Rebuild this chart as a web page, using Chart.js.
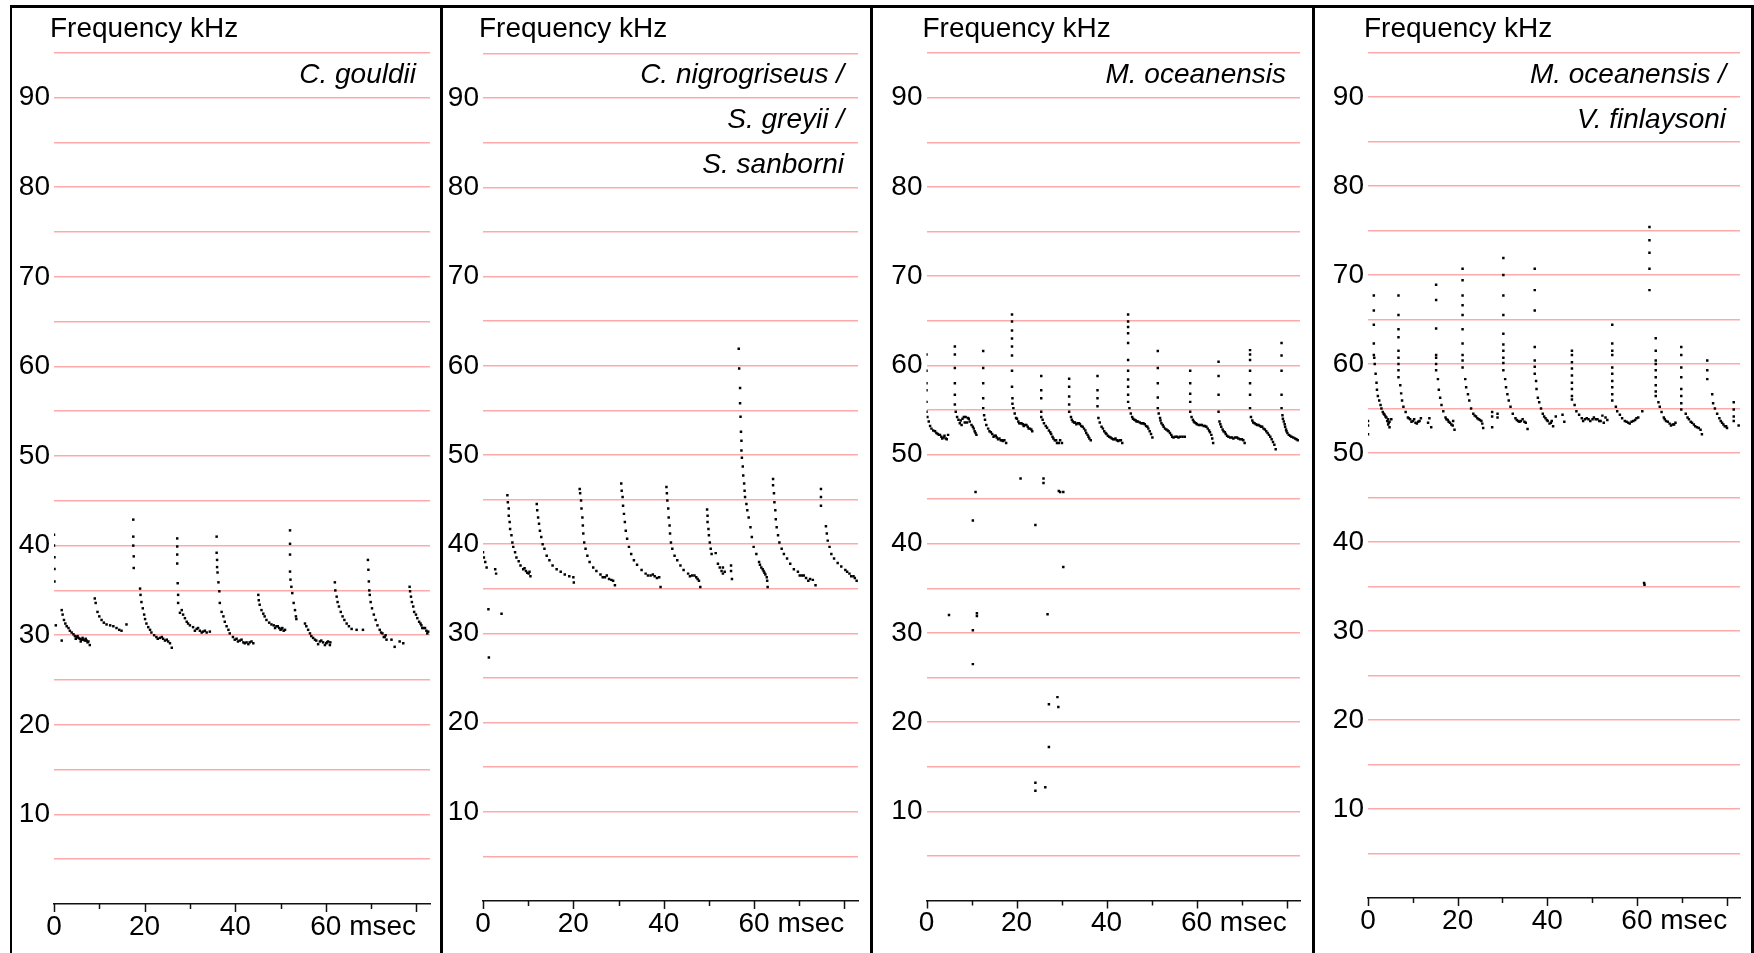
<!DOCTYPE html>
<html>
<head>
<meta charset="utf-8">
<script src="https://cdn.jsdelivr.net/npm/chart.js@4.4.0/dist/chart.umd.min.js"></script>
<style>
  html, body { margin: 0; padding: 0; background: #fff; }
  #page { position: relative; width: 1754px; height: 953px; overflow: hidden; background: #fff; }
  #page canvas { position: absolute; top: 0; }
  .rule { position: absolute; background: #000; }
</style>
</head>
<body>
<div id="page">
  <canvas id="c1" width="428" height="953" style="left:12px"></canvas>
  <canvas id="c2" width="427" height="953" style="left:443px"></canvas>
  <canvas id="c3" width="439" height="953" style="left:873px"></canvas>
  <canvas id="c4" width="436" height="953" style="left:1315px"></canvas>
  <div class="rule" style="left:9.5px;top:5px;width:1745px;height:3px"></div>
  <div class="rule" style="left:9.5px;top:5px;width:2.5px;height:948px"></div>
  <div class="rule" style="left:440px;top:5px;width:2.5px;height:948px"></div>
  <div class="rule" style="left:870px;top:5px;width:2.5px;height:948px"></div>
  <div class="rule" style="left:1312px;top:5px;width:2.5px;height:948px"></div>
  <div class="rule" style="left:1751px;top:5px;width:3px;height:948px"></div>
</div>
<script>
// Echolocation call sequences: [time ms, frequency kHz] for each detected sample.
const gouldiiCalls = [
  [0.0,41.2],[0.0,40.0],[0.1,38.7],[0.1,37.4],[0.1,36.0],[0.4,31.1],[1.7,29.4],
  [1.7,32.8],[1.9,32.3],[2.2,31.7],[2.5,31.3],[2.8,31.0],[3.2,30.8],[3.5,30.5],[3.9,30.3],[4.3,30.1],[4.6,29.9],[5.0,29.8],[5.4,29.7],[5.7,29.6],[6.1,29.5],[6.5,29.5],[6.8,29.4],[7.2,29.4],[7.6,29.3],[7.9,28.9],
  [4.8,29.6],[5.2,29.9],[5.9,29.3],[6.3,29.7],[7.0,29.6],[7.4,29.2],
  [9.0,34.1],[9.2,33.6],[9.6,32.6],[10.0,32.1],[10.5,31.7],[11.0,31.4],[11.6,31.2],[12.4,31.1],[13.1,31.0],[13.8,30.8],[14.4,30.6],[14.9,30.5],[16.0,31.2],
  [17.5,42.9],[17.5,41.0],[17.5,40.0],[17.6,38.8],[17.6,37.5],[19.0,35.2],[19.1,34.5],[19.3,33.7],[19.6,33.0],[19.9,32.3],[20.1,31.8],[20.4,31.3],[20.8,30.9],[21.2,30.6],[21.5,30.3],[22.1,30.0],[22.6,29.8],[23.4,29.7],[24.1,29.6],[24.9,29.5],[25.2,29.3],[25.6,29.1],[26.0,28.6],
  [22.9,29.6],[23.8,29.8],[24.5,29.4],
  [27.2,40.8],[27.2,39.9],[27.2,39.0],[27.2,38.0],[27.3,35.8],[27.4,34.5],[27.4,33.6],[27.8,32.5],[28.2,32.8],[28.5,32.3],[28.9,31.9],[29.3,31.5],[29.6,31.3],[30.0,31.1],[30.7,30.9],[31.5,30.7],[32.2,30.5],[32.9,30.4],[33.7,30.3],[34.4,30.4],
  [31.1,30.5],[31.8,30.8],[32.6,30.3],[33.3,30.5],
  [35.9,41.0],[35.9,39.2],[36.0,38.4],[36.0,37.6],[36.1,37.0],[36.3,35.9],[36.5,34.9],[36.6,33.6],[37.0,32.6],[37.4,32.1],[37.7,31.5],[38.1,31.0],[38.5,30.6],[38.8,30.2],[39.5,29.8],[40.3,29.6],[41.0,29.4],[41.8,29.2],[42.5,29.2],[43.2,29.2],[44.0,29.1],
  [39.9,29.5],[40.6,29.3],[41.4,29.5],[42.1,29.1],[42.9,29.0],[43.6,29.3],
  [45.1,34.5],[45.2,33.9],[45.4,33.4],[45.8,32.8],[46.2,32.4],[46.5,32.1],[46.9,31.7],[47.5,31.4],[48.0,31.2],[48.5,31.1],[49.1,31.0],[49.7,30.8],[50.2,30.7],[50.7,30.5],[51.0,30.6],
  [48.8,30.8],[49.4,31.0],[50.0,30.6],[50.4,30.8],
  [52.1,41.7],[52.1,40.2],[52.1,39.0],[52.1,37.1],[52.2,36.2],[52.4,35.4],[52.6,34.7],[52.9,33.6],[53.2,32.8],[53.4,32.1],[53.5,31.8],[55.4,31.3],[55.7,31.0],[56.1,30.6],[56.5,30.2],[56.8,29.9],[57.2,29.7],[57.6,29.5],[57.9,29.4],[58.7,29.3],[59.4,29.2],[60.1,29.1],[60.9,28.9],[60.5,29.3],
  [58.3,29.0],[59.0,29.4],[59.8,28.9],[60.3,29.2],[61.0,29.2],
  [62.0,35.9],[62.1,35.0],[62.4,34.3],[62.6,33.7],[62.9,33.2],[63.3,32.6],[63.7,32.1],[64.1,31.7],[64.6,31.3],[65.1,31.0],[65.7,30.7],[66.8,30.6],[68.2,30.6],
  [69.3,38.4],[69.4,37.3],[69.5,36.0],[69.6,35.0],[69.7,34.5],[69.9,33.7],[70.2,33.0],[70.6,32.3],[71.0,31.7],[71.4,31.1],[71.9,30.6],[72.5,30.2],[73.0,29.8],[73.4,29.5],[74.5,29.5],[75.2,28.7],[76.3,29.3],[77.1,29.1],
  [72.2,30.3],[72.8,29.8],[73.2,30.0],
  [78.5,35.4],[78.6,34.9],[78.8,34.3],[79.0,33.7],[79.3,33.2],[79.5,32.6],[79.9,32.3],[80.2,31.9],[80.6,31.5],[81.1,31.1],[81.6,30.8],[82.2,30.5],[82.6,30.4],
  [80.9,31.3],[81.3,30.8],[81.9,30.8],[82.4,30.2]
];

const nigrogriseusCalls = [
  [0.0,39.1],[0.2,38.5],[0.5,38.0],[0.8,37.4],[2.7,37.2],[2.9,36.7],[1.2,32.7],[4.1,32.2],[1.3,27.3],
  [5.4,45.5],[5.5,44.7],[5.7,44.0],[5.7,43.2],[5.9,42.5],[6.0,41.7],[6.3,41.0],[6.5,40.2],[6.7,39.7],[7.1,39.1],[7.4,38.5],[7.9,38.1],[8.3,37.6],[8.9,37.2],[9.5,37.0],[10.1,36.7],[10.5,36.4],
  [9.2,37.3],[9.8,36.8],[10.3,36.9],
  [11.9,44.5],[12.0,43.8],[12.2,43.0],[12.4,42.3],[12.6,41.5],[12.9,40.8],[13.2,40.0],[13.6,39.5],[14.1,38.7],[14.7,38.2],[15.4,37.6],[16.3,37.2],[17.2,36.9],[18.1,36.6],[19.1,36.4],[20.0,36.3],[20.1,35.7],
  [21.4,46.2],[21.5,45.7],[21.7,44.9],[21.8,44.0],[22.0,43.0],[22.1,42.1],[22.2,41.2],[22.4,40.2],[22.7,39.5],[23.1,38.7],[23.6,38.0],[24.4,37.4],[25.1,37.0],[26.0,36.6],[27.0,36.3],[27.9,36.1],[28.8,35.9],[29.2,35.4],
  [26.5,36.3],[27.4,36.5],[28.4,36.0],
  [30.6,46.8],[30.7,46.0],[30.9,45.3],[31.0,44.3],[31.2,43.4],[31.4,42.5],[31.6,41.5],[31.9,40.6],[32.3,39.7],[32.8,38.9],[33.4,38.2],[34.1,37.7],[35.1,37.1],[36.0,36.7],[37.1,36.5],[38.0,36.4],[39.0,36.3],[39.3,35.2],
  [36.5,36.5],[37.6,36.6],[38.5,36.2],
  [40.6,46.4],[40.7,45.7],[40.8,44.9],[41.0,44.0],[41.1,43.0],[41.3,42.1],[41.4,41.2],[41.6,40.2],[41.9,39.5],[42.4,38.7],[43.0,38.2],[43.7,37.6],[44.4,37.1],[45.4,36.7],[46.3,36.5],[47.2,36.3],[47.8,35.9],[48.1,35.2],
  [45.8,36.4],[46.8,36.5],[47.5,36.1],
  [49.6,43.9],[49.7,43.2],[49.7,42.5],[49.9,41.7],[50.0,41.0],[50.2,40.2],[50.4,39.5],[50.6,38.9],[51.5,39.0],[52.0,37.8],[52.4,37.4],[52.8,37.0],[53.1,36.7],[53.5,36.9],[53.1,37.4],[54.9,37.6],[54.9,37.0],[55.1,36.1],
  [56.6,61.9],[56.7,59.7],[56.9,57.5],[56.9,55.8],[57.0,54.3],[57.1,52.6],[57.2,51.6],[57.2,50.5],[57.3,49.7],[57.5,48.7],[57.6,47.7],[57.8,46.8],[57.9,46.0],[58.0,45.3],[58.3,44.5],[58.5,43.8],[58.8,43.0],[59.2,41.9],[59.5,40.8],[59.9,39.7],[60.5,38.9],[61.1,38.0],[61.6,37.4],[62.1,37.0],[62.5,36.6],[62.8,36.3],[62.9,35.9],[63.0,35.2],
  [61.3,37.7],[61.9,37.2],[62.3,36.8],
  [64.2,47.3],[64.2,46.6],[64.4,45.7],[64.5,44.7],[64.7,43.8],[64.8,42.8],[65.0,41.9],[65.3,41.0],[65.6,40.2],[66.1,39.5],[66.6,38.9],[67.3,38.4],[68.0,37.8],[68.8,37.2],[69.7,36.9],[70.6,36.5],[71.5,36.2],[72.4,36.1],[73.0,36.0],[73.6,35.4],
  [70.1,36.5],[71.0,36.5],[72.0,35.9],
  [74.8,46.2],[74.8,45.3],[74.8,44.3],[75.9,42.0],[76.1,41.2],[76.3,40.4],[76.7,39.7],[77.1,38.9],[77.7,38.4],[78.5,37.9],[79.3,37.5],[80.2,37.1],[81.1,36.7],[82.0,36.4],[82.7,35.9],
  [80.6,36.9],[81.5,36.4],[82.3,36.2]
];

const oceanensisCalls = [
  [0.0,61.2],[0.0,59.4],[0.0,58.0],[0.0,57.2],[0.0,55.9],[0.0,54.8],[0.2,54.2],[0.5,53.7],[0.8,53.2],[1.1,52.9],[1.5,52.7],[1.9,52.6],[2.2,52.4],[2.8,52.2],[3.3,52.0],[3.8,51.9],[4.3,51.8],[4.8,52.2],
  [2.5,52.3],[3.0,52.2],[3.5,51.8],[4.0,52.1],[4.5,51.7],
  [6.3,62.1],[6.3,61.2],[6.3,59.7],[6.3,58.0],[6.3,56.7],[6.3,55.6],[6.5,54.8],[6.8,54.2],[7.1,53.9],[7.4,53.5],[7.8,53.3],[8.3,54.2],[8.7,54.2],[9.2,54.1],[9.6,53.7],[10.3,53.1],[10.7,52.6],[11.1,52.2],
  [7.6,53.8],[8.0,54.0],[8.5,53.6],[9.0,53.6],[9.4,54.0],[10.0,53.3],[10.5,52.9],[10.9,52.4],
  [12.6,61.6],[12.6,59.7],[12.6,58.0],[12.6,56.3],[12.6,55.2],[12.8,54.4],[13.0,53.9],[13.3,53.3],[13.7,52.9],[14.0,52.6],[14.6,52.3],[15.1,52.1],[15.6,51.9],[16.2,51.8],[16.8,51.6],[17.3,51.6],[17.7,51.3],
  [14.3,52.5],[14.9,52.0],[15.4,52.1],[15.9,51.7],[16.5,51.6],[17.0,51.5],
  [19.0,65.7],[19.0,64.9],[19.0,63.9],[19.0,63.0],[19.0,62.1],[19.0,61.1],[19.0,59.4],[19.0,57.6],[19.1,56.3],[19.1,55.7],[19.3,55.2],[19.6,54.6],[19.9,54.1],[20.4,53.7],[20.9,53.5],[21.4,53.4],[21.9,53.3],[22.5,53.1],[23.0,52.9],[23.5,52.6],
  [20.1,54.0],[20.6,53.5],[21.1,53.5],[21.6,53.2],[22.2,53.3],[22.7,52.9],[23.3,52.8],
  [25.5,58.8],[25.5,57.2],[25.5,56.3],[25.5,54.8],[25.5,54.2],[25.8,53.9],[26.5,53.2],[27.2,52.7],[27.7,52.3],[28.2,51.8],[28.8,51.6],[29.4,51.3],[30.1,51.3],
  [26.1,53.5],[26.8,53.0],[27.5,52.5],[28.0,52.0],[28.5,51.6],[29.0,51.3],[29.7,51.6],
  [31.7,58.5],[31.7,57.6],[31.7,56.5],[31.7,55.6],[31.7,54.8],[32.1,54.2],[32.5,53.7],[33.0,53.6],[33.6,53.5],[34.1,53.4],[34.7,53.1],[35.3,52.7],[35.8,52.2],[36.2,51.8],[36.5,51.6],
  [32.3,53.9],[32.8,53.6],[33.3,53.4],[33.9,53.5],[34.4,53.2],[35.0,52.9],[35.5,52.4],[36.0,52.0],
  [38.0,58.8],[38.0,57.2],[38.0,56.3],[38.0,55.4],[38.2,54.1],[38.5,53.6],[38.9,53.1],[39.5,52.6],[40.0,52.3],[40.6,52.0],[41.2,51.8],[41.8,51.7],[42.3,51.6],[42.9,51.6],[43.5,51.3],
  [39.2,52.9],[39.8,52.4],[40.3,52.1],[40.9,51.9],[41.5,51.7],[42.0,51.8],[42.6,51.5],[43.2,51.6],
  [44.8,65.7],[44.8,64.9],[44.8,64.3],[44.8,63.6],[44.8,62.5],[44.8,60.6],[44.8,59.4],[44.8,58.4],[44.8,57.6],[44.8,56.7],[44.8,55.9],[45.1,55.2],[45.4,54.6],[45.7,54.2],[46.2,53.9],[46.7,53.7],[47.4,53.6],[48.0,53.5],[48.5,53.4],[49.1,53.1],[49.6,52.6],[50.2,51.9],
  [45.9,54.0],[46.5,53.8],[47.0,53.7],[47.7,53.5],[48.2,53.5],[48.8,53.2],[49.3,52.9],[49.9,52.3],
  [51.4,61.6],[51.4,59.7],[51.4,58.0],[51.4,56.4],[51.4,55.2],[51.6,54.6],[51.9,54.1],[52.2,53.5],[52.7,53.1],[53.3,52.8],[53.8,52.6],[54.4,52.2],[54.9,51.9],[55.7,52.0],[56.4,52.0],[57.4,52.0],
  [52.0,53.8],[52.5,53.3],[53.0,52.9],[53.6,52.7],[54.1,52.4],[54.6,52.0],[55.3,52.0],[56.0,51.9],[56.9,52.0],
  [58.6,59.4],[58.6,58.0],[58.6,56.8],[58.6,55.9],[58.6,54.8],[58.9,54.2],[59.2,53.9],[59.6,53.6],[60.1,53.4],[60.9,53.3],[61.6,53.2],[62.2,53.1],[62.8,52.7],[63.3,52.2],[63.7,51.3],
  [59.4,53.7],[59.9,53.5],[60.5,53.3],[61.2,53.3],[61.9,53.2],[62.5,52.9],[63.0,52.5],[63.5,51.8],
  [64.9,60.4],[64.9,58.8],[64.9,56.7],[64.9,54.8],[65.1,53.7],[65.5,53.1],[66.0,52.6],[66.5,52.3],[67.1,52.0],[67.9,51.9],[68.6,51.9],[69.3,51.8],[70.1,51.7],[70.7,51.3],
  [65.3,53.4],[65.8,52.8],[66.3,52.5],[66.8,52.1],[67.5,51.9],[68.2,51.8],[69.0,51.9],[69.7,51.7],[70.4,51.6],
  [71.9,61.7],[71.9,61.2],[71.9,60.6],[71.9,59.4],[71.9,58.0],[71.9,56.7],[71.9,55.2],[72.1,54.2],[72.4,53.8],[72.9,53.5],[73.5,53.3],[74.1,53.2],[74.6,53.1],[75.2,52.8],[75.8,52.4],[76.4,52.0],[77.0,51.4],[77.6,50.6],
  [72.6,53.6],[73.2,53.4],[73.8,53.3],[74.4,53.1],[74.9,52.9],[75.5,52.6],[76.1,52.2],[76.7,51.7],[77.3,51.1],
  [78.9,62.5],[78.9,61.1],[78.9,59.4],[78.9,56.7],[78.9,55.2],[79.1,54.4],[79.4,53.7],[79.7,53.1],[80.0,52.6],[80.5,52.2],[81.1,52.0],[81.9,51.8],[82.5,51.6],
  [79.2,54.0],[79.6,53.4],[79.9,52.8],[80.2,52.4],[80.8,52.1],[81.5,51.9],[82.2,51.7],
  [5.0,32.0],[10.3,30.3],[11.2,32.2],[11.2,31.9],[10.3,26.5],[10.3,42.6],[10.9,45.8],[20.9,47.3],[26.0,47.3],[26.0,46.8],[24.2,42.1],[29.4,45.9],[29.7,45.8],[30.4,45.8],[30.4,37.4],[26.9,32.1],[27.2,22.0],[29.1,22.8],[29.3,21.7],[27.2,17.2],[24.2,13.2],[24.2,12.3],[26.4,12.7]
];

const finlaysoniCalls = [
  [0.0,53.6],[0.0,53.1],[0.0,52.1],
  [1.3,67.7],[1.3,66.0],[1.3,64.4],[1.3,62.3],[1.3,61.0],[1.4,60.7],[1.5,60.0],[1.7,58.9],[1.9,57.9],[2.0,57.1],[2.2,56.4],[2.5,55.9],[2.8,55.4],[3.0,55.0],[3.3,54.6],[3.7,54.3],[4.1,54.0],[4.5,53.8],[4.8,53.5],[5.2,53.8],[4.5,53.2],[4.8,52.9],
  [3.5,54.4],[3.9,54.1],[4.3,53.6],[4.6,53.4],
  [6.8,67.7],[6.8,65.5],[6.8,63.9],[6.8,63.0],[6.8,61.5],[6.8,60.7],[6.8,60.0],[6.8,59.3],[6.8,58.5],[7.2,57.6],[7.4,56.7],[7.6,55.9],[7.9,55.2],[8.4,54.6],[8.9,54.0],[9.4,53.8],[10.0,53.6],[10.6,53.4],[11.2,53.5],[11.8,53.9],
  [9.1,53.9],[9.7,53.5],[10.3,53.8],[10.9,53.3],[11.5,53.6],
  [13.4,53.4],[13.7,53.9],[14.1,52.9],
  [15.2,68.9],[15.2,67.2],[15.2,64.0],[15.2,61.0],[15.2,60.7],[15.2,60.0],[15.2,59.3],[15.6,58.3],[15.8,57.1],[16.1,56.2],[16.4,55.4],[16.8,54.7],[17.3,54.0],[17.8,53.7],[18.3,53.4],[18.9,53.1],[19.3,52.6],
  [17.5,53.8],[18.0,53.5],[18.6,53.2],[19.0,53.6],
  [21.1,70.7],[21.1,69.4],[21.1,67.7],[21.1,66.6],[21.1,65.5],[21.1,63.9],[21.1,62.3],[21.1,61.0],[21.1,60.4],[21.1,59.6],[21.7,58.3],[21.9,57.4],[22.3,56.6],[22.6,55.9],[23.0,55.0],[23.5,54.4],[24.1,54.1],[24.7,53.8],[25.3,53.6],[25.7,52.8],
  [23.8,54.2],[24.4,53.9],[25.0,53.7],[25.5,53.3],
  [27.7,54.6],[27.7,54.1],[27.7,52.9],[28.9,54.4],[28.9,54.0],
  [30.2,71.9],[30.2,70.0],[30.2,67.7],[30.2,65.5],[30.2,63.4],[30.2,62.2],[30.2,61.5],[30.2,60.7],[30.2,60.1],[30.2,59.3],[30.6,58.3],[30.8,57.4],[31.1,56.6],[31.4,55.9],[31.8,55.2],[32.3,54.4],[32.9,53.9],[33.5,53.6],[34.1,53.6],[34.9,53.5],[35.6,52.7],
  [33.2,53.7],[33.8,53.5],[34.5,53.8],[35.2,53.4],
  [37.2,70.7],[37.2,68.3],[37.2,66.0],[37.2,61.9],[37.2,60.4],[37.2,59.7],[37.2,58.9],[37.5,58.1],[37.6,57.2],[37.9,56.2],[38.2,55.7],[38.6,55.0],[39.0,54.4],[39.6,53.9],[40.1,53.6],[40.8,53.4],[41.3,53.0],[41.9,54.1],[43.4,54.3],[43.8,53.5],
  [39.3,54.1],[39.9,53.7],[40.5,53.3],[41.0,53.6],
  [45.5,61.5],[45.5,61.0],[45.5,60.2],[45.5,59.5],[45.5,58.7],[45.5,57.9],[45.5,57.2],[45.5,56.4],[45.5,56.0],[46.1,55.4],[46.5,54.7],[47.1,54.3],[47.7,53.9],[48.4,53.8],[49.2,53.8],[50.1,53.8],[50.8,53.8],[51.6,53.6],
  [48.0,53.6],[48.8,53.9],[49.6,53.6],[50.4,54.0],[51.2,53.8],
  [51.9,53.6],[52.3,54.2],[52.6,53.4],[53.0,54.0],[53.4,53.7],
  [54.5,64.4],[54.5,62.3],[54.5,61.5],[54.5,61.0],[54.5,59.6],[54.5,58.9],[54.5,58.1],[54.5,57.4],[54.5,56.6],[54.5,55.9],[55.3,55.2],[55.6,54.7],[56.2,54.3],[56.7,53.9],[57.3,53.6],[58.1,53.4],[58.8,53.5],[59.6,53.7],[60.3,54.0],[61.2,54.7],
  [57.7,53.5],[58.4,53.3],[59.2,53.6],[59.9,53.9],
  [62.8,75.4],[62.8,73.9],[62.8,72.5],[62.8,70.7],[62.8,68.3],[64.2,62.9],[64.2,61.5],[64.2,60.4],[64.2,60.0],[64.2,59.3],[64.2,58.5],[64.2,57.6],[64.2,56.9],[64.2,56.4],[64.8,55.7],[65.1,55.2],[65.5,54.6],[66.0,54.0],[66.5,53.6],[67.3,53.3],[68.0,53.2],[68.6,53.4],
  [66.2,53.8],[66.9,53.5],[67.6,53.1],[68.3,53.2],
  [69.9,61.9],[69.9,61.0],[69.9,59.6],[69.9,58.5],[69.9,57.2],[69.9,56.4],[69.9,55.6],[69.9,54.9],[70.9,54.4],[71.3,54.0],[72.0,53.5],[72.7,53.2],[73.4,52.9],[74.2,52.6],[74.5,52.1],
  [71.6,53.8],[72.3,53.4],[73.0,53.0],[73.8,52.8],
  [75.7,60.4],[75.7,59.3],[75.7,58.3],[76.8,56.6],[77.0,55.6],[77.4,55.0],[77.9,54.4],[78.4,53.9],[79.0,53.4],[79.6,53.0],[80.1,52.8],
  [78.7,53.6],[79.3,53.2],[79.9,53.0],
  [81.6,55.7],[81.6,54.9],[81.6,54.1],[81.6,53.6],[82.7,53.1],
  [61.6,35.4],[61.7,35.2]
];

// Axis tick labels and panel captions
const freqTickLabels = [10, 20, 30, 40, 50, 60, 70, 80, 90];
const timeTickLabels = [0, 20, 40, 60];
const timeUnit = 'msec';
const freqAxisTitle = 'Frequency kHz';
const panelSpecies = [
  ['C. gouldii'],
  ['C. nigrogriseus /', 'S. greyii /', 'S. sanborni'],
  ['M. oceanensis'],
  ['M. oceanensis /', 'V. finlaysoni']
];
const panelCalls = [gouldiiCalls, nigrogriseusCalls, oceanensisCalls, finlaysoniCalls];

// Layout of each panel on the page (pixels)
const panelLayout = [
  { id: 'c1', canvasLeft: 12,   canvasRight: 440,  plotLeft: 54,    plotRight: 430,  zeroY: 904,   pxPerKHz: 8.96 },
  { id: 'c2', canvasLeft: 443,  canvasRight: 870,  plotLeft: 483,   plotRight: 858,  zeroY: 901,   pxPerKHz: 8.92 },
  { id: 'c3', canvasLeft: 873,  canvasRight: 1312, plotLeft: 926.5, plotRight: 1300, zeroY: 900.5, pxPerKHz: 8.92 },
  { id: 'c4', canvasLeft: 1315, canvasRight: 1751, plotLeft: 1368,  plotRight: 1740, zeroY: 898,   pxPerKHz: 8.9 }
];

const FREQ_MAX = 97;
const TIME_MAX = 83;
const FONT = '"Liberation Sans", Arial, sans-serif';
const FONT_SIZE = 28;
const GRID_PINK = '#ffaaaa';
const LABEL_PAD = 6;

Chart.defaults.font.family = FONT;
Chart.defaults.color = '#000';

// Draws axis tick marks, the unit after the last time label, the frequency caption and species names
const panelDecor = {
  id: 'panelDecor',
  afterDraw(chart, args, opts) {
    const ctx = chart.ctx;
    const xs = chart.scales.x;
    const area = chart.chartArea;
    ctx.save();
    ctx.strokeStyle = '#111';
    ctx.lineWidth = 1.5;
    xs.ticks.forEach(t => {
      const px = Math.round(xs.getPixelForValue(t.value)) + 0.5;
      const len = t.value % 20 === 0 ? 8 : 5;
      ctx.beginPath();
      ctx.moveTo(px, area.bottom);
      ctx.lineTo(px, area.bottom + len);
      ctx.stroke();
    });
    ctx.fillStyle = '#000';
    ctx.font = FONT_SIZE + 'px ' + FONT;
    const lastValue = timeTickLabels[timeTickLabels.length - 1];
    const lx = xs.getPixelForValue(lastValue);
    const ly = xs.top + LABEL_PAD + FONT_SIZE * 1.2 / 2;
    ctx.textBaseline = 'middle';
    ctx.textAlign = 'left';
    ctx.fillText(timeUnit, lx + ctx.measureText(String(lastValue)).width / 2 + ctx.measureText(' ').width, ly);
    ctx.textBaseline = 'alphabetic';
    ctx.fillText(freqAxisTitle, area.left - 4, 36.5);
    ctx.font = 'italic ' + FONT_SIZE + 'px ' + FONT;
    ctx.textAlign = 'right';
    opts.species.forEach((s, i) => {
      ctx.fillText(s, area.right - 14, 83 + i * 45);
    });
    ctx.restore();
  }
};

panelLayout.forEach((p, i) => {
  const topPad = p.zeroY - FREQ_MAX * p.pxPerKHz;
  new Chart(document.getElementById(p.id), {
    type: 'scatter',
    data: {
      datasets: [{
        data: panelCalls[i].map(([x, y]) => ({ x, y })),
        pointStyle: 'rect',
        pointRadius: 1.75,
        pointBackgroundColor: '#000',
        pointBorderWidth: 0,
        showLine: false
      }]
    },
    options: {
      responsive: false,
      animation: false,
      events: [],
      layout: { padding: { left: 0, right: p.canvasRight - p.plotRight, top: topPad, bottom: 0 } },
      plugins: {
        legend: { display: false },
        tooltip: { enabled: false },
        panelDecor: { species: panelSpecies[i] }
      },
      scales: {
        x: {
          type: 'linear',
          min: 0,
          max: TIME_MAX,
          afterFit: s => { s.height = 953 - p.zeroY; },
          grid: { display: false, drawTicks: false },
          border: { display: true, color: '#111', width: 1.5 },
          ticks: {
            stepSize: 10,
            includeBounds: false,
            autoSkip: false,
            maxRotation: 0,
            padding: LABEL_PAD,
            font: { size: FONT_SIZE },
            color: '#000',
            callback: v => timeTickLabels.includes(v) ? String(v) : ''
          }
        },
        y: {
          type: 'linear',
          min: 0,
          max: FREQ_MAX,
          afterFit: s => { s.width = p.plotLeft - p.canvasLeft; },
          grid: {
            drawTicks: false,
            lineWidth: 1.5,
            color: c => c.tick && c.tick.value === 0 ? 'rgba(0,0,0,0)' : GRID_PINK
          },
          border: { display: false },
          ticks: {
            stepSize: 5,
            includeBounds: false,
            autoSkip: false,
            padding: 4,
            font: { size: FONT_SIZE },
            color: '#000',
            callback: v => freqTickLabels.includes(v) ? String(v) : ''
          }
        }
      }
    },
    plugins: [panelDecor]
  });
});
</script>
</body>
</html>
